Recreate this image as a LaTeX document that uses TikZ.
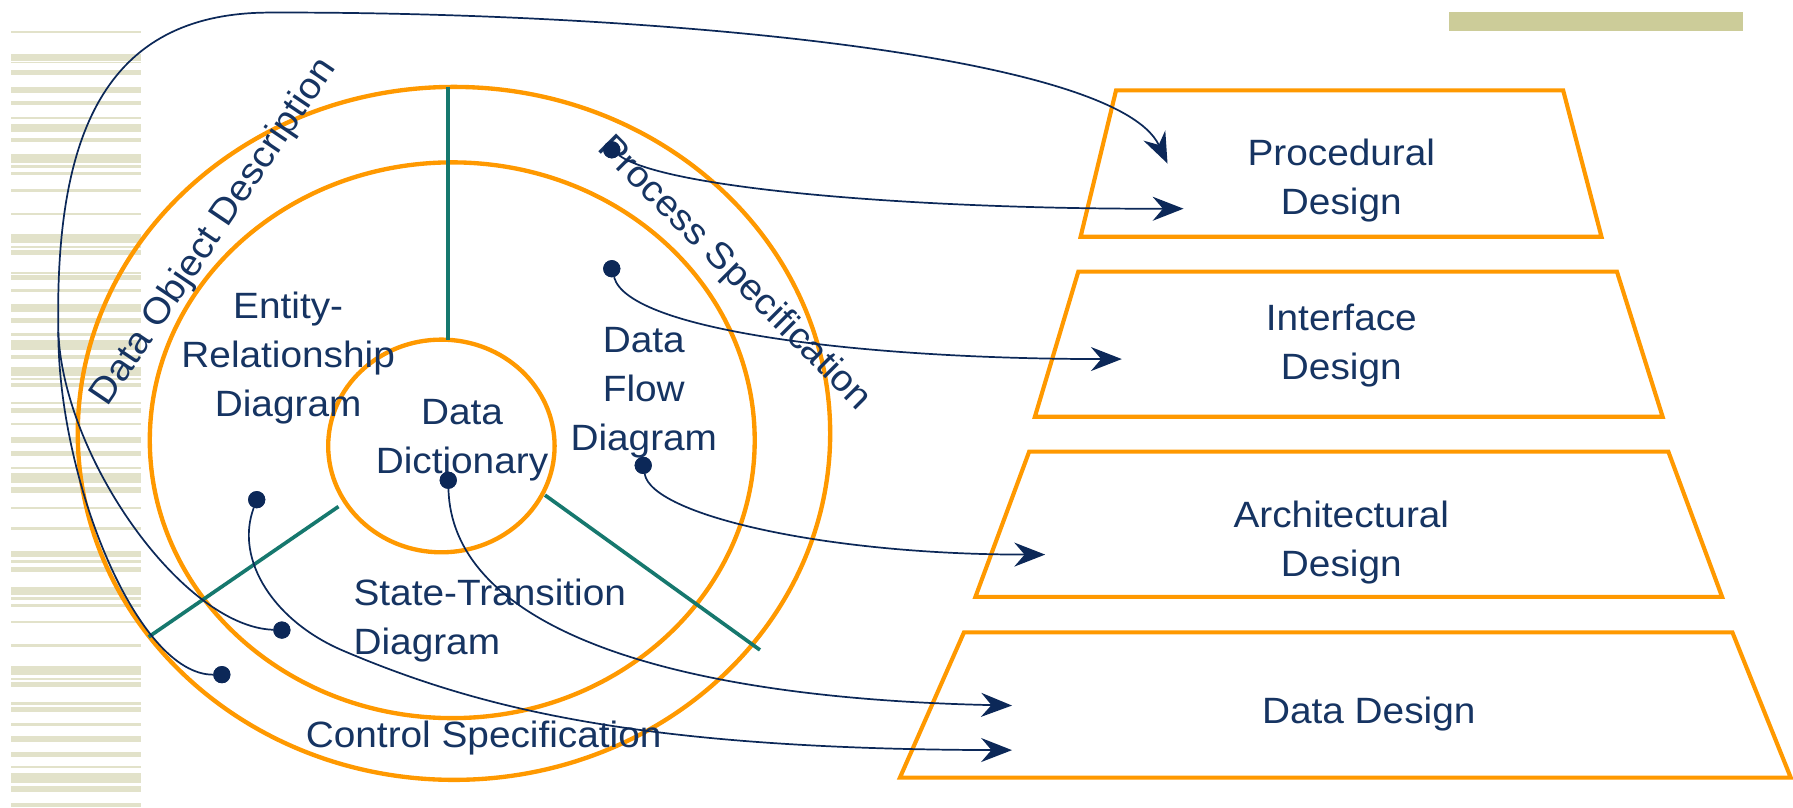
\documentclass[tikz,border=0pt]{standalone}
\usepackage{fontspec}
\setmainfont{Liberation Sans}[FakeStretch=1.06]
\usetikzlibrary{arrows.meta}
\definecolor{ringorange}{RGB}{255,153,0}
\definecolor{spoke}{RGB}{22,120,110}
\definecolor{ink}{RGB}{22,52,98}
\definecolor{flow}{RGB}{12,40,88}
\definecolor{stripe}{RGB}{226,226,202}
\definecolor{bar}{RGB}{204,204,153}
\begin{document}
\begin{tikzpicture}[x=1pt,y=-1pt,
  orbit/.style={draw=ringorange,line width=3.8pt},
  tier/.style={draw=ringorange,line width=3.6pt},
  spokeline/.style={draw=spoke,line width=3.2pt},
  txt/.style={font=\fontsize{32}{43}\selectfont,text=ink,inner sep=0pt,align=center,anchor=north},
  flowdot/.style={circle,fill=flow,inner sep=0pt,minimum size=15pt},
  joinline/.style={draw=flow,line width=1.5pt},
  flowline/.style={joinline,-{Stealth[length=27pt,width=21pt,inset=9pt]}},
]
\fill[white] (0,0) rectangle (1568,706);
\useasboundingbox (0,0) rectangle (1568,706);

% decorative stripes on the left margin and bar at the top right
\begin{scope}[x=0.874508pt,y=-0.874508pt]
\foreach \a/\b in {31/33,54/61,62/63,70/75,87/93,101/105,117/119,124/132,138/142,
  154/163,165/168,172/175,189/192,213/215,234/243,246/248,250/255,272/274,275/280,
  289/292,304/312,318/323,333/336,340/350,355/359,367/376,378/380,383/387,402/404,
  408/413,423/425,437/443,451/456,467/469,473/483,487/493,507/509,527/530,551/557,
  560/563,567/572,587/595,597/600,604/607,621/623,644/647,666/675,678/680,682/687,
  702/705,707/712,723/726,736/742,752/757,766/768,773/783,786/792,803/807}
  \fill[stripe] (11,\a) rectangle (141,\b);
\end{scope}
\fill[bar] (1267,10.8) rectangle (1524,26.8);

% analysis model rings
\draw[orbit] (397,379) ellipse [x radius=329, y radius=303];
\draw[orbit] (395.5,385) ellipse [x radius=264.5, y radius=243];
\draw[orbit] (386,390) ellipse [x radius=99, y radius=93];

% dividing spokes
\draw[spokeline] (392,75.8) -- (392,297);
\draw[spokeline] (296,443) -- (130,557);
\draw[spokeline] (476.6,433) -- (664.6,568.4);

% design model layers
\draw[tier] (976,79) -- (1367,79) -- (1400.5,207) -- (945,207) -- cycle;
\draw[tier] (943,237.5) -- (1414,237.5) -- (1454,364.5) -- (905,364.5) -- cycle;
\draw[tier] (900,395) -- (1459,395) -- (1506,522) -- (853,522) -- cycle;
\draw[tier] (843,553) -- (1515,553) -- (1566,680) -- (787,680) -- cycle;

% labels
\node[txt] (proc) at (1173,114) {\strut Procedural\\\strut Design};
\node[txt] (intf) at (1173,258.5) {\strut Interface\\\strut Design};
\node[txt] (arch) at (1173,431) {\strut Architectural\\\strut Design};
\node[txt] (data) at (1197,602) {\strut Data Design};
\node[txt] (erd) at (252,248) {\strut Entity-\\\strut Relationship\\\strut Diagram};
\node[txt] (dd) at (404,341) {\strut Data\\\strut Dictionary};
\node[txt] (dfd) at (563,278) {\strut Data\\\strut Flow\\\strut Diagram};
\node[txt,align=left,anchor=north west] (std) at (309,499) {\strut State-Transition\\\strut Diagram};
\node[txt] (cspec) at (423,623) {\strut Control Specification};
\node[txt,anchor=center,rotate=56] (dod) at (187,203) {\strut Data Object Description};
\node[txt,anchor=center,rotate=-45] (pspec) at (642,239) {\strut Process Specification};

% sources of the mappings
\node[flowdot] (p1) at (535,131) {};
\node[flowdot] (f1) at (535,235) {};
\node[flowdot] (f2) at (562.5,407) {};
\node[flowdot] (d1) at (392,420) {};
\node[flowdot] (e1) at (224.5,437) {};
\node[flowdot] (s1) at (246.5,551) {};
\node[flowdot] (c1) at (194,590) {};

% arrow ends inside the layers
\coordinate (tipP1) at (1035,182.5);
\coordinate (tipP2) at (1021,143);
\coordinate (tipI) at (981,314);
\coordinate (tipA) at (914,485);
\coordinate (tipD1) at (885,617);
\coordinate (tipD2) at (885,656);
\coordinate (merge) at (51,290);
\coordinate (crest) at (236,11);
\coordinate (bend) at (300,569);

% mappings
\draw[flowline] (p1) .. controls (580,165) and (800,183) .. (tipP1);
\draw[flowline] (f1) .. controls (550,290) and (760,314) .. (tipI);
\draw[flowline] (f2) .. controls (570,450) and (720,485) .. (tipA);
\draw[flowline] (d1) .. controls (395,540) and (560,610) .. (tipD1);
\draw[flowline] (e1) .. controls (205,490) and (240,543.5) .. (bend)
  .. controls (420,620) and (560,655) .. (tipD2);
\draw[joinline] (s1) .. controls (160,548) and (55,400) .. (merge);
\draw[joinline] (c1) .. controls (120,590) and (51,420) .. (merge);
\draw[flowline] (merge) .. controls (48,120) and (90,11) .. (crest)
  .. controls (550,10) and (975,45) .. (tipP2);

% redraw the dots above the lines
\foreach \n in {p1,f1,f2,d1,e1,s1,c1}
  \fill[flow] (\n.center) circle (7.5pt);
\end{tikzpicture}
\end{document}
